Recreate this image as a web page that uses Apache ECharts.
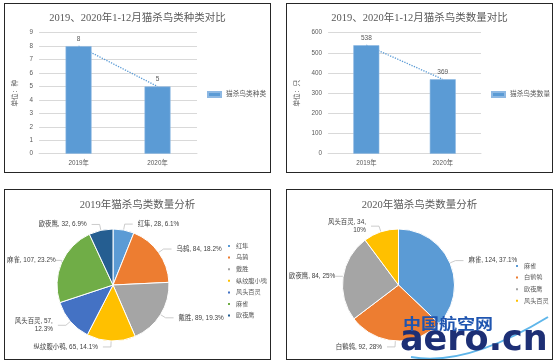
<!DOCTYPE html>
<html><head><meta charset="utf-8">
<script src="https://cdn.jsdelivr.net/npm/echarts@6/dist/echarts.min.js"></script>
<style>
html,body{margin:0;padding:0;background:#fff;}
body{width:556px;height:364px;position:relative;overflow:hidden;}
.panel{position:absolute;}
.frame{position:absolute;border:1.5px solid #262626;box-sizing:border-box;pointer-events:none;}
</style></head><body>
<div id="p1" class="panel" style="left:4px;top:3px;width:267px;height:170px"></div>
<div id="p2" class="panel" style="left:286px;top:3px;width:267px;height:170px"></div>
<div id="p3" class="panel" style="left:4px;top:189px;width:267px;height:171px"></div>
<div id="p4" class="panel" style="left:286px;top:189px;width:267px;height:171px"></div>
<div class="frame" style="left:4px;top:3px;width:267px;height:170px"></div>
<div class="frame" style="left:286px;top:3px;width:267px;height:170px"></div>
<div class="frame" style="left:4px;top:189px;width:267px;height:171px"></div>
<div class="frame" style="left:286px;top:189px;width:267px;height:171px"></div>
<script>
// ---- data ----
const yearCats = ['2019年', '2020年'];
const speciesCount = [8, 5];
const birdCount = [538, 369];
const pie2019Names = ['红隼', '乌鸫', '戴胜', '纵纹腹小鸮', '风头百灵', '麻雀', '欧夜鹰'];
const pie2019Values = [28, 84, 89, 65, 57, 107, 32];
const pie2019Pct = ['6.1%', '18.2%', '19.3%', '14.1%', '12.3%', '23.2%', '6.9%'];
const pie2020Names = ['麻雀', '白鹡鸰', '欧夜鹰', '风头百灵'];
const pie2020Values = [124, 92, 84, 34];
const pie2020Pct = ['37.1%', '28%', '25%', '10%'];

// ---- styles ----
const SERIF = '"Liberation Serif","Noto Sans CJK SC",serif';
const SANS = '"Liberation Sans","Noto Sans CJK SC",sans-serif';
const GRAY = '#595959';
const BLUE = '#5B9BD5';
const pieColors = ['#5B9BD5', '#ED7D31', '#A5A5A5', '#FFC000', '#4472C4', '#70AD47', '#255E91'];

function barOption(title, yName, seriesName, data, max, interval, gridLeft, gridWidth, legendLeft, nameGap) {
  return {
    animation: false,
    title: { text: title, left: 'center', top: 5,
      textStyle: { fontFamily: SERIF, fontSize: 10.5, fontWeight: 'normal', color: GRAY } },
    legend: { data: [seriesName], left: legendLeft, top: 88, padding: 0, icon: 'rect', itemWidth: 13, itemHeight: 5,
      itemGap: 3, textStyle: { fontFamily: SANS, fontSize: 6.7, color: GRAY, overflow: 'none' } },
    grid: { left: gridLeft, top: 29.7, width: gridWidth, height: 121 },
    xAxis: { type: 'category', data: yearCats,
      axisTick: { show: false }, axisLine: { lineStyle: { color: '#d9d9d9' } },
      axisLabel: { fontFamily: SANS, fontSize: 6.3, color: GRAY, margin: 6 } },
    yAxis: { type: 'value', min: 0, max: max, interval: interval,
      name: yName, nameLocation: 'middle', nameRotate: 90, nameGap: nameGap,
      nameTextStyle: { fontFamily: SANS, fontSize: 6.7, color: GRAY },
      axisLine: { show: false }, axisTick: { show: false },
      splitLine: { lineStyle: { color: '#d9d9d9' } },
      axisLabel: { fontFamily: SANS, fontSize: 6.3, color: GRAY, margin: 6 } },
    series: [
      { name: '趋势', type: 'line', data: data, symbol: 'none', z: 1, silent: true,
        lineStyle: { type: 'dotted', width: 1.3, color: BLUE } },
      { name: seriesName, type: 'bar', data: data, barWidth: 26, z: 2,
        itemStyle: { color: BLUE, borderColor: '#8db8e3', borderWidth: 0.6 },
        label: { show: true, position: 'top', distance: 4, fontFamily: SANS, fontSize: 6.5, color: GRAY } }
    ]
  };
}

function pieOption(title, names, values, pcts, center, legendLeft, legendTop, wrapNames) {
  const data = names.map((n, i) => ({ name: n, value: values[i], itemStyle: { color: pieColors[i] } }));
  return {
    animation: false,
    title: { text: title, left: 'center', top: 6,
      textStyle: { fontFamily: SERIF, fontSize: 10.5, fontWeight: 'normal', color: GRAY } },
    legend: { data: names, orient: 'vertical', left: legendLeft, top: legendTop, padding: 0, icon: 'rect',
      itemWidth: 4, itemHeight: 4, itemGap: 3.6,
      textStyle: { fontFamily: SANS, fontSize: 6.2, lineHeight: 8, color: GRAY, overflow: 'none' } },
    series: [{
      type: 'pie', center: center, radius: 56, startAngle: 90, clockwise: true,
      data: data,
      itemStyle: { borderColor: '#fff', borderWidth: 1 },
      label: { show: true, position: 'outside', fontFamily: SANS, fontSize: 6.4, color: '#404040',
        lineHeight: 8.5, overflow: 'none',
        formatter: p => {
          const i = p.dataIndex;
          const sep = wrapNames.indexOf(p.name) >= 0 ? ',\n' : ', ';
          return p.name + ', ' + p.value + sep + pcts[i];
        } },
      labelLine: { show: true, length: 6, length2: 8, lineStyle: { color: '#bfbfbf', width: 0.8 } },
      labelLayout: p => (p.labelRect.x < 3 ? { x: 3 + p.labelRect.width } : {})
    }]
  };
}

const c1 = echarts.init(document.getElementById('p1'));
c1.setOption(barOption('2019、2020年1-12月猫杀鸟类种类对比', '单位：种', '猫杀鸟类种类', speciesCount, 9, 1, 30, 163, 203, 10));
const c2 = echarts.init(document.getElementById('p2'));
c2.setOption(barOption('2019、2020年1-12月猫杀鸟类数量对比', '单位：只', '猫杀鸟类数量', birdCount, 600, 100, 34.7, 160.3, 205, 16));
const c3 = echarts.init(document.getElementById('p3'));
c3.setOption(pieOption('2019年猫杀鸟类数量分析', pie2019Names, pie2019Values, pie2019Pct, [109, 96], 222, 53, ['风头百灵']));
const c4 = echarts.init(document.getElementById('p4'));
const o4 = pieOption('2020年猫杀鸟类数量分析', pie2020Names, pie2020Values, pie2020Pct, [112.5, 96], 228, 73, ['风头百灵']);
o4.graphic = [
  { type: 'bezierCurve', silent: true, z: 100,
    shape: { x1: 125, y1: 168, cpx1: 180, cpy1: 178, x2: 262, y2: 128 },
    style: { stroke: '#5fb6ea', lineWidth: 2, fill: null } },
  { type: 'text', left: 114, top: 134, silent: true, z: 101,
    style: { text: 'aero.cn', font: 'bold 35px "DejaVu Sans"', fill: '#1d2f75' } },
  { type: 'text', x: 117, y: 127, scaleX: 1.2, silent: true, z: 102,
    style: { text: '中国航空网', font: 'bold 15px "Noto Sans CJK SC"', fill: '#1f55b0' } }
];
c4.setOption(o4);
</script>
</body></html>
